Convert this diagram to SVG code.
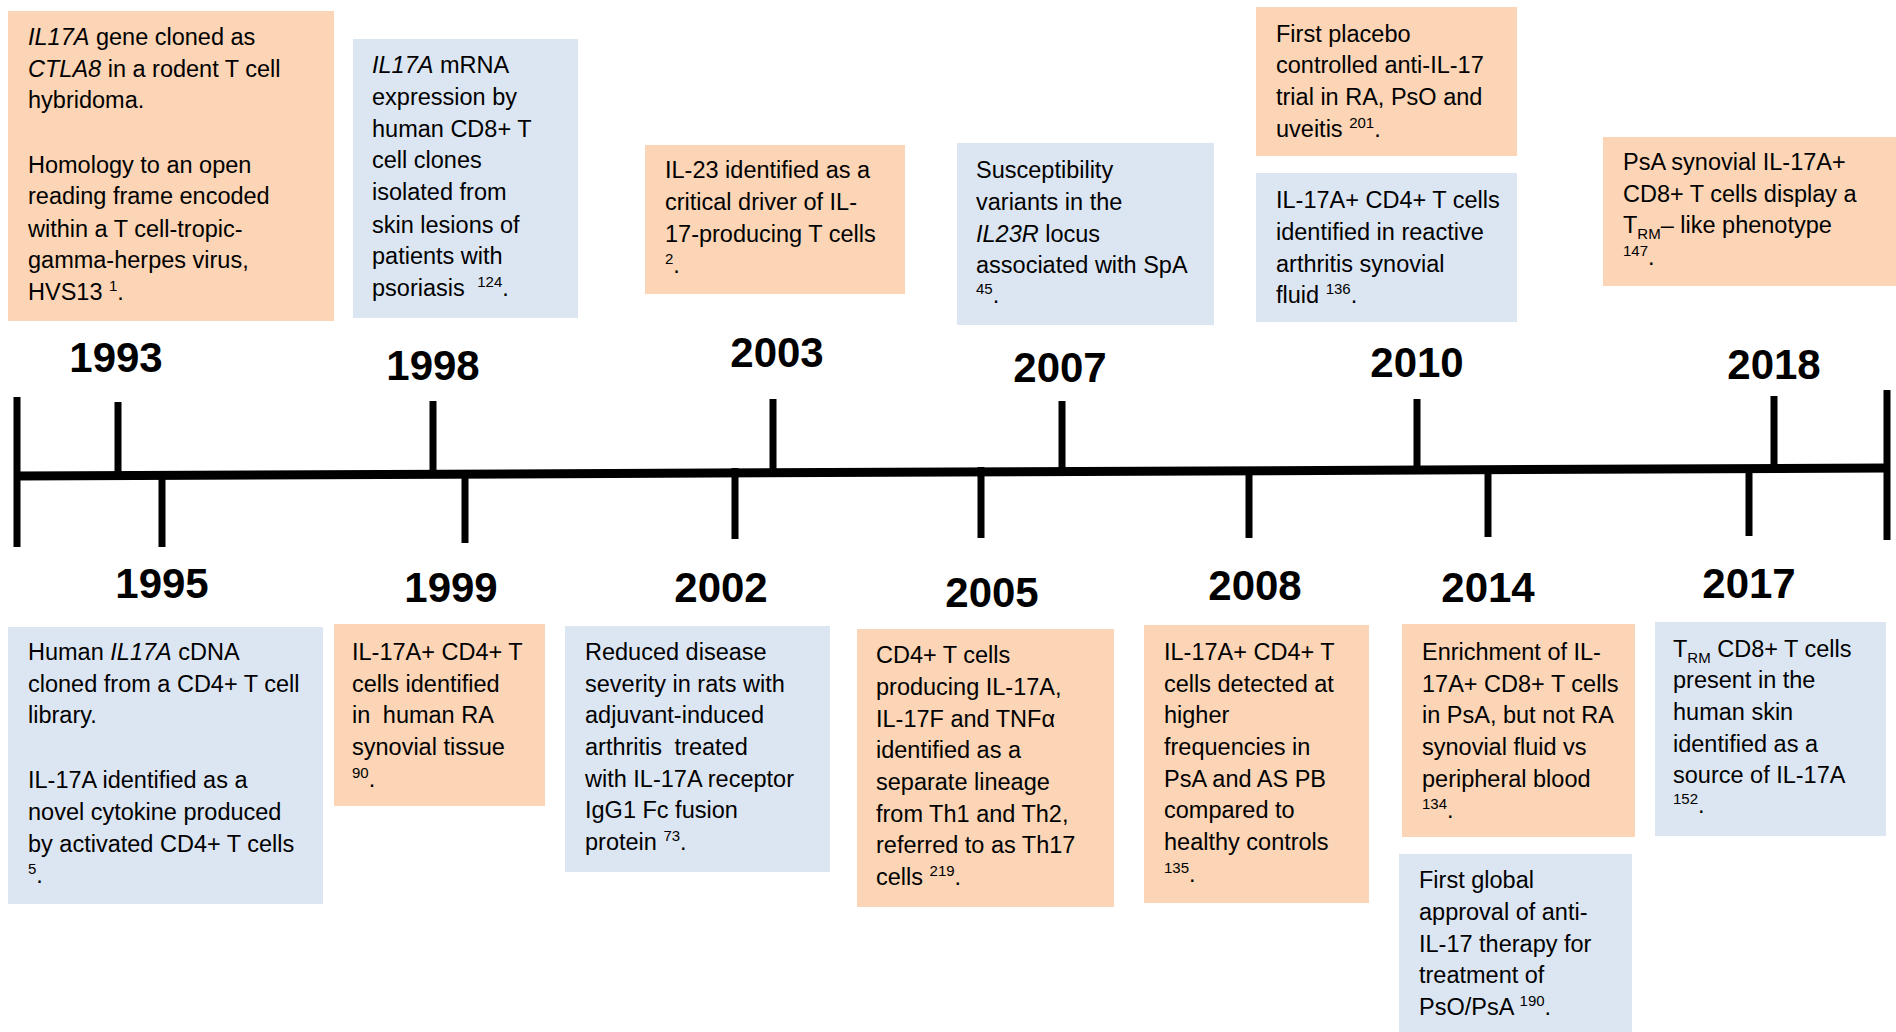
<svg xmlns="http://www.w3.org/2000/svg" width="1896" height="1032" viewBox="0 0 1896 1032">
<style>
.o{fill:#FBD5B5}
.b{fill:#DCE6F2}
.t{font-family:"Liberation Sans",Arial,sans-serif;font-size:23.5px;fill:#000}
.y{font-family:"Liberation Sans",Arial,sans-serif;font-size:42px;font-weight:bold;fill:#000;text-anchor:middle}
.i{font-style:italic}
.s{font-size:15px}
.tk{stroke:#000;stroke-width:7;fill:none}
</style>
<rect width="1896" height="1032" fill="#fff"/>

<g id="timeline">
<path d="M17 476 L1887 468" stroke="#000" stroke-width="9" fill="none"/>
<path class="tk" d="M17 397V547 M1887 390V540"/>
<path class="tk" d="M118 402V476 M433 401V474 M773 399V471 M1062 401V471 M1417 399V470 M1774 396V468"/>
<path class="tk" d="M162 476V547 M465 474V543 M735 468V539 M981 467V538 M1249 470V538 M1488 466V537 M1749 465V536"/>
</g>

<g id="years">
<text class="y" x="116" y="372">1993</text>
<text class="y" x="433" y="380">1998</text>
<text class="y" x="777" y="367">2003</text>
<text class="y" x="1060" y="382">2007</text>
<text class="y" x="1417" y="377">2010</text>
<text class="y" x="1774" y="379">2018</text>
<text class="y" x="162" y="598">1995</text>
<text class="y" x="451" y="602">1999</text>
<text class="y" x="721" y="602">2002</text>
<text class="y" x="992" y="607">2005</text>
<text class="y" x="1255" y="600">2008</text>
<text class="y" x="1488" y="602">2014</text>
<text class="y" x="1749" y="598">2017</text>
</g>

<g id="n1993">
<rect class="o" x="8" y="11" width="326" height="310"/>
<text class="t" x="28" y="45"><tspan class="i">IL17A</tspan> gene cloned as</text>
<text class="t" x="28" y="77"><tspan class="i">CTLA8</tspan> in a rodent T cell</text>
<text class="t" x="28" y="108">hybridoma.</text>
<text class="t" x="28" y="173">Homology to an open</text>
<text class="t" x="28" y="204">reading frame encoded</text>
<text class="t" x="28" y="237">within a T cell-tropic-</text>
<text class="t" x="28" y="268">gamma-herpes virus,</text>
<text class="t" x="28" y="300">HVS13 <tspan class="s" dy="-9">1</tspan><tspan dy="9">.</tspan></text>
</g>

<g id="n1998">
<rect class="b" x="353" y="39" width="225" height="279"/>
<text class="t" x="372" y="73"><tspan class="i">IL17A</tspan> mRNA</text>
<text class="t" x="372" y="105">expression by</text>
<text class="t" x="372" y="137">human CD8+ T</text>
<text class="t" x="372" y="168">cell clones</text>
<text class="t" x="372" y="200">isolated from</text>
<text class="t" x="372" y="233">skin lesions of</text>
<text class="t" x="372" y="264">patients with</text>
<text class="t" x="372" y="296">psoriasis <tspan class="s" dx="6" dy="-9">124</tspan><tspan dy="9">.</tspan></text>
</g>

<g id="n2003">
<rect class="o" x="645" y="145" width="260" height="149"/>
<text class="t" x="665" y="178">IL-23 identified as a</text>
<text class="t" x="665" y="210">critical driver of IL-</text>
<text class="t" x="665" y="242">17-producing T cells</text>
<text class="t" x="665" y="273"><tspan class="s" dy="-9">2</tspan><tspan dy="9">.</tspan></text>
</g>

<g id="n2007">
<rect class="b" x="957" y="143" width="257" height="182"/>
<text class="t" x="976" y="178">Susceptibility</text>
<text class="t" x="976" y="210">variants in the</text>
<text class="t" x="976" y="242"><tspan class="i">IL23R</tspan> locus</text>
<text class="t" x="976" y="273">associated with SpA</text>
<text class="t" x="976" y="303"><tspan class="s" dy="-9">45</tspan><tspan dy="9">.</tspan></text>
</g>

<g id="n2010a">
<rect class="o" x="1256" y="7" width="261" height="149"/>
<text class="t" x="1276" y="42">First placebo</text>
<text class="t" x="1276" y="73">controlled anti-IL-17</text>
<text class="t" x="1276" y="105">trial in RA, PsO and</text>
<text class="t" x="1276" y="137">uveitis <tspan class="s" dy="-9">201</tspan><tspan dy="9">.</tspan></text>
</g>

<g id="n2010b">
<rect class="b" x="1256" y="173" width="261" height="149"/>
<text class="t" x="1276" y="208">IL-17A+ CD4+ T cells</text>
<text class="t" x="1276" y="240">identified in reactive</text>
<text class="t" x="1276" y="272">arthritis synovial</text>
<text class="t" x="1276" y="303">fluid <tspan class="s" dy="-9">136</tspan><tspan dy="9">.</tspan></text>
</g>

<g id="n2018">
<rect class="o" x="1603" y="137" width="293" height="149"/>
<text class="t" x="1623" y="170">PsA synovial IL-17A+</text>
<text class="t" x="1623" y="202">CD8+ T cells display a</text>
<text class="t" x="1623" y="233">T<tspan class="s" dy="6">RM</tspan><tspan dy="-6">– like phenotype</tspan></text>
<text class="t" x="1623" y="265"><tspan class="s" dy="-9">147</tspan><tspan dy="9">.</tspan></text>
</g>

<g id="n1995">
<rect class="b" x="8" y="627" width="315" height="277"/>
<text class="t" x="28" y="660">Human <tspan class="i">IL17A</tspan> cDNA</text>
<text class="t" x="28" y="692">cloned from a CD4+ T cell</text>
<text class="t" x="28" y="723">library.</text>
<text class="t" x="28" y="788">IL-17A identified as a</text>
<text class="t" x="28" y="820">novel cytokine produced</text>
<text class="t" x="28" y="852">by activated CD4+ T cells</text>
<text class="t" x="28" y="883"><tspan class="s" dy="-9">5</tspan><tspan dy="9">.</tspan></text>
</g>

<g id="n1999">
<rect class="o" x="334" y="624" width="211" height="182"/>
<text class="t" x="352" y="660">IL-17A+ CD4+ T</text>
<text class="t" x="352" y="692">cells identified</text>
<text class="t" x="352" y="723">in <tspan dx="6">human RA</tspan></text>
<text class="t" x="352" y="755">synovial tissue</text>
<text class="t" x="352" y="787"><tspan class="s" dy="-9">90</tspan><tspan dy="9">.</tspan></text>
</g>

<g id="n2002">
<rect class="b" x="565" y="626" width="265" height="246"/>
<text class="t" x="585" y="660">Reduced disease</text>
<text class="t" x="585" y="692">severity in rats with</text>
<text class="t" x="585" y="723">adjuvant-induced</text>
<text class="t" x="585" y="755">arthritis <tspan dx="6">treated</tspan></text>
<text class="t" x="585" y="787">with IL-17A receptor</text>
<text class="t" x="585" y="818">IgG1 Fc fusion</text>
<text class="t" x="585" y="850">protein <tspan class="s" dy="-9">73</tspan><tspan dy="9">.</tspan></text>
</g>

<g id="n2005">
<rect class="o" x="857" y="629" width="257" height="278"/>
<text class="t" x="876" y="663">CD4+ T cells</text>
<text class="t" x="876" y="695">producing IL-17A,</text>
<text class="t" x="876" y="727">IL-17F and TNFα</text>
<text class="t" x="876" y="758">identified as a</text>
<text class="t" x="876" y="790">separate lineage</text>
<text class="t" x="876" y="822">from Th1 and Th2,</text>
<text class="t" x="876" y="853">referred to as Th17</text>
<text class="t" x="876" y="885">cells <tspan class="s" dy="-9">219</tspan><tspan dy="9">.</tspan></text>
</g>

<g id="n2008">
<rect class="o" x="1144" y="625" width="225" height="278"/>
<text class="t" x="1164" y="660">IL-17A+ CD4+ T</text>
<text class="t" x="1164" y="692">cells detected at</text>
<text class="t" x="1164" y="723">higher</text>
<text class="t" x="1164" y="755">frequencies in</text>
<text class="t" x="1164" y="787">PsA and AS PB</text>
<text class="t" x="1164" y="818">compared to</text>
<text class="t" x="1164" y="850">healthy controls</text>
<text class="t" x="1164" y="882"><tspan class="s" dy="-9">135</tspan><tspan dy="9">.</tspan></text>
</g>

<g id="n2014a">
<rect class="o" x="1402" y="624" width="233" height="213"/>
<text class="t" x="1422" y="660">Enrichment of IL-</text>
<text class="t" x="1422" y="692">17A+ CD8+ T cells</text>
<text class="t" x="1422" y="723">in PsA, but not RA</text>
<text class="t" x="1422" y="755">synovial fluid vs</text>
<text class="t" x="1422" y="787">peripheral blood</text>
<text class="t" x="1422" y="818"><tspan class="s" dy="-9">134</tspan><tspan dy="9">.</tspan></text>
</g>

<g id="n2014b">
<rect class="b" x="1399" y="854" width="233" height="178"/>
<text class="t" x="1419" y="888">First global</text>
<text class="t" x="1419" y="920">approval of anti-</text>
<text class="t" x="1419" y="952">IL-17 therapy for</text>
<text class="t" x="1419" y="983">treatment of</text>
<text class="t" x="1419" y="1015">PsO/PsA <tspan class="s" dy="-9">190</tspan><tspan dy="9">.</tspan></text>
</g>

<g id="n2017">
<rect class="b" x="1655" y="622" width="231" height="214"/>
<text class="t" x="1673" y="657">T<tspan class="s" dy="6">RM</tspan><tspan dy="-6"> CD8+ T cells</tspan></text>
<text class="t" x="1673" y="688">present in the</text>
<text class="t" x="1673" y="720">human skin</text>
<text class="t" x="1673" y="752">identified as a</text>
<text class="t" x="1673" y="783">source of IL-17A</text>
<text class="t" x="1673" y="813"><tspan class="s" dy="-9">152</tspan><tspan dy="9">.</tspan></text>
</g>
</svg>
